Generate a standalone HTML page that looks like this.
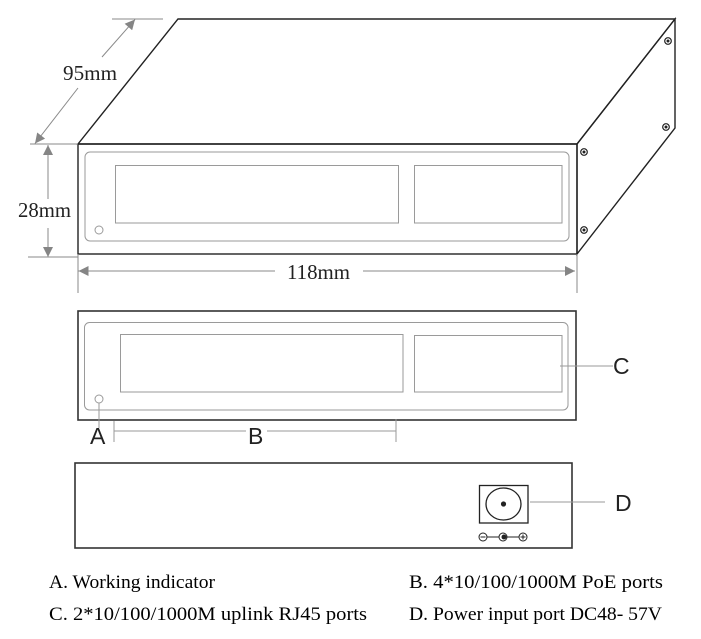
<!DOCTYPE html>
<html><head><meta charset="utf-8"><style>
html,body{margin:0;padding:0;background:#fff;}
svg{display:block;}
</style></head><body>
<svg width="701" height="639" viewBox="0 0 701 639" xmlns="http://www.w3.org/2000/svg">
<defs>
<marker id="ah" viewBox="0 0 10 10" refX="10" refY="5" markerWidth="12" markerHeight="10" markerUnits="userSpaceOnUse" orient="auto">
<path d="M0,0 L10,5 L0,10 z" fill="#858585"/>
</marker>
</defs>
<rect width="701" height="639" fill="#fff"/>

<!-- 3D box -->
<g fill="none" stroke="#222" stroke-width="1.4" stroke-linejoin="miter">
<polygon points="178,19 675,19 577,144 78,144"/>
<polygon points="577,144 675,19 675,128 577,254"/>
<rect x="78" y="144" width="499" height="110"/>
</g>
<g fill="none" stroke="#9a9a9a" stroke-width="1">
<rect x="85" y="152" width="484" height="89" rx="5"/>
<rect x="115.5" y="165.5" width="283" height="57.5"/>
<rect x="414.5" y="165.5" width="147.5" height="57.5"/>
<circle cx="99" cy="230" r="4"/>
</g>
<!-- screws -->
<g>
<circle cx="584" cy="152" r="3.3" fill="#fff" stroke="#222" stroke-width="1.2"/><circle cx="584" cy="152" r="1.5" fill="#222"/>
<circle cx="584" cy="230" r="3.3" fill="#fff" stroke="#222" stroke-width="1.2"/><circle cx="584" cy="230" r="1.5" fill="#222"/>
<circle cx="668" cy="41" r="3.3" fill="#fff" stroke="#222" stroke-width="1.2"/><circle cx="668" cy="41" r="1.5" fill="#222"/>
<circle cx="666" cy="127" r="3.3" fill="#fff" stroke="#222" stroke-width="1.2"/><circle cx="666" cy="127" r="1.5" fill="#222"/>
</g>

<!-- dimension lines -->
<g stroke="#8a8a8a" stroke-width="1" fill="none">
<line x1="112" y1="19" x2="163" y2="19"/>
<line x1="30" y1="144" x2="78" y2="144"/>
<line x1="28" y1="257" x2="78" y2="257"/>
<line x1="78" y1="254" x2="78" y2="293"/>
<line x1="577" y1="254" x2="577" y2="293"/>
<!-- 95mm -->
<line x1="78" y1="88" x2="35" y2="143.5" marker-end="url(#ah)"/>
<line x1="102" y1="57" x2="135" y2="19.5" marker-end="url(#ah)"/>
<!-- 28mm -->
<line x1="48" y1="199" x2="48" y2="145" marker-end="url(#ah)"/>
<line x1="48" y1="228" x2="48" y2="257" marker-end="url(#ah)"/>
<!-- 118mm -->
<line x1="275" y1="271" x2="78.5" y2="271" marker-end="url(#ah)"/>
<line x1="363" y1="271" x2="575" y2="271" marker-end="url(#ah)"/>
</g>
<g font-family="'Liberation Serif', serif" font-size="21" fill="#222">
<text x="63" y="80" textLength="54" lengthAdjust="spacingAndGlyphs">95mm</text>
<text x="18" y="217" textLength="53" lengthAdjust="spacingAndGlyphs">28mm</text>
<text x="287" y="279" textLength="63" lengthAdjust="spacingAndGlyphs">118mm</text>
</g>

<!-- front view -->
<rect x="78" y="311" width="498" height="109" fill="none" stroke="#333" stroke-width="1.6"/>
<g fill="none" stroke="#9a9a9a" stroke-width="1">
<rect x="84.5" y="322.5" width="483.5" height="87.5" rx="5"/>
<rect x="120.5" y="334.5" width="282.5" height="57.5"/>
<rect x="414.5" y="335.5" width="147.5" height="56.5"/>
<circle cx="99" cy="399" r="4"/>
<line x1="99" y1="403" x2="99" y2="428"/>
<line x1="114" y1="421" x2="114" y2="442"/>
<line x1="396" y1="419" x2="396" y2="442"/>
<line x1="114" y1="431" x2="246" y2="431"/>
<line x1="267" y1="431" x2="396" y2="431"/>
<line x1="560" y1="366" x2="613" y2="366"/>
</g>
<g font-family="'Liberation Sans', sans-serif" font-size="23" fill="#222">
<text x="90" y="444">A</text>
<text x="248" y="444">B</text>
<text x="613" y="374">C</text>
<text x="615" y="511">D</text>
</g>

<!-- rear view -->
<rect x="75" y="463" width="497" height="85" fill="none" stroke="#333" stroke-width="1.6"/>
<rect x="479.5" y="485.5" width="48.5" height="37.5" fill="none" stroke="#222" stroke-width="1.3"/>
<ellipse cx="503.5" cy="504" rx="17.5" ry="16" fill="none" stroke="#222" stroke-width="1.3"/>
<circle cx="503.5" cy="504" r="2.6" fill="#222"/>
<line x1="530" y1="502" x2="605" y2="502" stroke="#9a9a9a" stroke-width="1"/>
<!-- polarity -->
<g stroke="#222" stroke-width="1" fill="none">
<circle cx="483" cy="537" r="4"/>
<line x1="480.5" y1="537" x2="485.5" y2="537"/>
<line x1="487" y1="537" x2="499" y2="537"/>
<circle cx="503" cy="537" r="4"/>
<line x1="507" y1="537" x2="519" y2="537"/>
<circle cx="523" cy="537" r="4"/>
<line x1="520.5" y1="537" x2="525.5" y2="537"/>
<line x1="523" y1="534.5" x2="523" y2="539.5"/>
</g>
<circle cx="504" cy="537" r="2.5" fill="#222"/>

<!-- legend -->
<g font-family="'Liberation Serif', serif" font-size="19" fill="#000">
<text x="49" y="588" textLength="166" lengthAdjust="spacingAndGlyphs">A. Working indicator</text>
<text x="49" y="620" textLength="318" lengthAdjust="spacingAndGlyphs">C. 2*10/100/1000M uplink RJ45 ports</text>
<text x="409" y="588" textLength="254" lengthAdjust="spacingAndGlyphs">B. 4*10/100/1000M PoE ports</text>
<text x="409" y="620" textLength="253" lengthAdjust="spacingAndGlyphs">D. Power input port DC48- 57V</text>
</g>
</svg>
</body></html>
